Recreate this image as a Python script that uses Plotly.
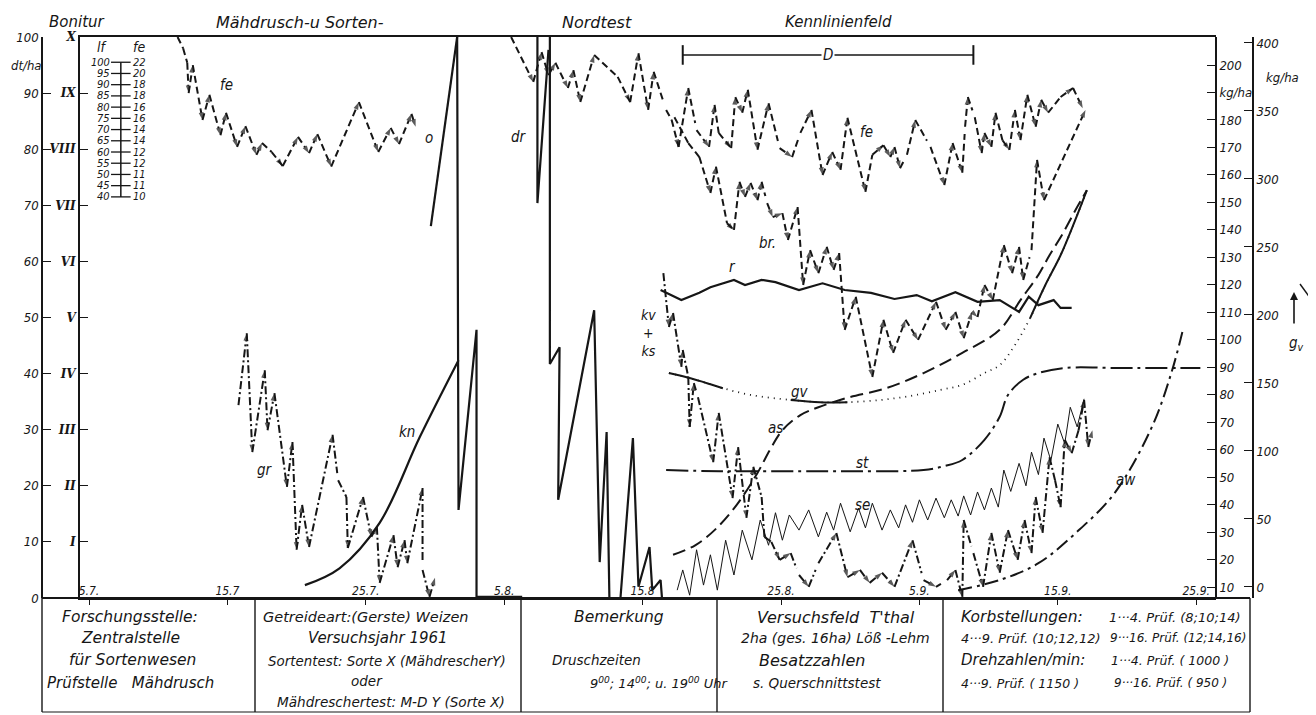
import plotly.graph_objects as go

# The page body has an 8px default margin: build the figure 8px smaller and place
# every layout position in page pixels through px()/py().
OFF = 8
W, H = 1316 - OFF, 715 - OFF
FONT = "DejaVu Sans Condensed, Liberation Sans Narrow, Open Sans, sans-serif"
TFONT = "DejaVu Sans, Open Sans, sans-serif"
INK = "#161616"

# ---------------- axes / tick data ----------------
date_pos = [0, 10, 20, 30, 40, 50, 60, 70, 80]
date_text = ["5.7.", "15.7", "25.7.", "5.8.", "15.8", "25.8.", "5.9.", "15.9.", "25.9."]
dt_ticks = list(range(0, 101, 10))
roman_ticks = list(range(10, 101, 10))
roman_text = ["I", "II", "III", "IV", "V", "VI", "VII", "VIII", "IX", "X"]
kg_inner_ticks = list(range(10, 201, 10))
kg_inner_text = ["kg/ha" if v == 190 else str(v) for v in kg_inner_ticks]
kg_outer_ticks = list(range(0, 401, 50))

# nomogram lf / fe
lf_vals = [100, 95, 90, 85, 80, 75, 70, 65, 60, 55, 50, 45, 40]
fe_vals = [22, 20, 18, 18, 16, 16, 14, 14, 12, 12, 11, 11, 10]

# ---------------- series (x: days on decade scale from 5.7., y: dt/ha) -------------
fe_left = [(6.4, 100), (6.8, 98.0), (7.1, 95.4), (7.2, 90.0), (7.5, 95.0), (8.2, 85.2), (8.7, 89.7),
           (9.5, 82.5), (9.9, 86.5), (10.7, 80.4), (11.3, 84.1), (12.1, 79.0), (12.5, 81.1),
           (13.2, 79.5), (14.0, 77.0), (15.1, 82.2), (15.9, 79.3), (16.5, 82.7), (17.5, 76.9),
           (19.5, 88.4), (20.9, 79.5), (21.8, 83.8), (22.4, 80.9), (23.3, 86.3), (23.6, 84.0)]

gr = [(10.8, 34.4), (11.4, 47.2), (11.8, 26.0), (12.7, 40.6), (12.9, 29.9), (13.4, 36.5), (14.3, 19.8),
      (14.7, 27.8), (15.0, 8.6), (15.4, 16.6), (15.9, 9.1), (16.5, 16.2), (17.6, 29.1), (18.0, 21.0),
      (18.6, 18.0), (18.7, 8.9), (19.8, 18.0), (20.4, 10.9), (20.8, 12.7), (21.0, 2.7), (22.0, 11.2),
      (22.3, 5.5), (22.8, 10.3), (23.0, 6.2), (24.1, 19.6), (24.1, 5.0), (24.6, 0.2), (25.0, 3.6)]

kn = [(15.6, 2.3), (18.1, 5.3), (21.0, 13.4), (23.9, 28.7), (26.7, 42.4)]

o_line = [(24.7, 66.3), (26.6, 100)]
o_drop = [(26.6, 100), (26.7, 15.7), (28.0, 47.8), (28.0, 0.2), (31.3, 0.2)]

dr_v = [(32.4, 100), (32.4, 70.4), (33.2, 97.7)]
dr = [(33.3, 100), (33.3, 41.7), (34.0, 44.7), (33.9, 17.5), (36.5, 51.3), (36.9, 6.4), (37.4, 29.6),
      (37.6, 0), (38.4, 0), (39.3, 28.5), (39.7, 2.0), (40.5, 9.1), (40.7, 1.4), (41.3, 3.2), (41.4, 0)]

fe_right = [(30.5, 100), (32.1, 92.0), (32.7, 97.3), (33.2, 93.2), (33.7, 95.4), (34.6, 90.9), (35.0, 94.1),
            (35.5, 88.4), (36.5, 96.8), (37.1, 95.4), (38.2, 92.9), (39.1, 88.4), (39.7, 97.1),
            (40.4, 87.0), (40.8, 93.8), (41.7, 87.0), (42.1, 85.2), (42.6, 80.4), (43.3, 90.9),
            (43.9, 83.4), (44.8, 80.4), (45.2, 87.9), (45.5, 82.9), (46.4, 80.2), (46.7, 89.3),
            (47.2, 86.5), (47.6, 90.6), (48.3, 79.9), (49.1, 88.2), (49.9, 80.2), (50.8, 78.6),
            (51.4, 82.9), (52.2, 87.0), (53.0, 75.4), (53.7, 79.5), (54.3, 76.3), (54.8, 85.6),
            (56.1, 72.4), (56.6, 79.0), (57.4, 80.7), (57.9, 78.6), (58.2, 80.4), (58.6, 76.6),
            (59.1, 79.0), (59.7, 85.2), (60.8, 80.4), (61.8, 73.6), (62.4, 81.1), (62.8, 78.1),
            (63.1, 75.8), (63.3, 84.0), (63.5, 89.3), (64.0, 85.7), (64.5, 79.3), (64.7, 82.9),
            (65.2, 80.4), (65.5, 86.5), (66.0, 81.6), (66.5, 79.9), (66.9, 87.0), (67.3, 81.6),
            (67.8, 89.7), (68.4, 84.0), (68.8, 88.8), (69.3, 86.5), (70.2, 89.3), (71.1, 90.9),
            (71.8, 87.3)]

br = [(42.3, 85.7), (43.3, 81.1), (44.1, 78.6), (44.9, 72.2), (45.3, 76.9), (46.1, 66.8), (46.6, 65.6),
      (47.0, 74.2), (47.4, 71.5), (47.8, 74.0), (48.3, 70.9), (48.6, 74.2), (49.0, 70.4), (49.4, 67.9),
      (50.1, 68.6), (50.5, 63.8), (51.2, 69.7), (51.6, 55.8), (52.1, 62.0), (52.7, 57.9), (53.3, 62.6),
      (53.8, 58.5), (54.2, 61.5), (54.6, 47.8), (55.4, 53.7), (56.6, 39.4), (57.4, 49.6), (58.1, 43.7),
      (59.0, 49.6), (59.9, 46.0), (61.2, 52.8), (61.9, 47.8), (62.6, 51.0), (63.2, 46.3), (63.8, 51.0),
      (64.2, 50.1), (64.7, 55.8), (65.3, 53.1), (66.1, 62.9), (66.7, 57.9), (67.2, 62.6), (67.5, 56.7),
      (68.1, 62.0), (68.5, 78.1), (69.0, 70.9), (72.0, 87.0)]

r = [(41.3, 54.9), (42.8, 53.1), (44.1, 54.4), (44.9, 55.4), (46.6, 56.7), (47.4, 55.8), (48.6, 56.7),
     (49.6, 56.3), (51.3, 54.9), (53.0, 56.1), (54.6, 54.9), (56.5, 54.4), (58.2, 53.3), (59.8, 54.0),
     (60.9, 52.9), (62.6, 54.5), (64.2, 52.8), (65.8, 53.1), (67.2, 51.0), (67.9, 53.7), (68.6, 52.2),
     (69.7, 53.1), (70.2, 51.7), (71.0, 51.7)]

kv_ks = [(41.5, 57.9), (41.9, 48.3), (42.2, 50.8), (42.5, 46.0), (42.8, 41.2), (42.9, 44.2), (43.3, 39.4),
         (43.4, 30.5), (43.7, 38.3), (44.0, 35.8), (45.1, 24.2), (45.5, 33.0), (46.5, 17.8), (46.9, 26.9),
         (47.5, 14.3), (48.0, 23.4), (48.6, 18.0), (48.8, 10.9), (49.3, 10.0), (49.9, 6.8), (50.7, 8.0),
         (51.3, 4.1), (52.0, 2.0), (52.7, 6.2), (53.3, 8.6), (54.0, 11.6), (54.8, 3.7), (55.7, 5.0),
         (56.4, 2.7), (57.3, 4.5), (58.2, 2.0), (59.5, 10.3), (60.3, 3.2), (61.2, 2.0), (62.0, 3.2),
         (62.6, 5.0), (63.1, 0.2), (63.2, 13.9), (63.9, 8.0), (64.6, 2.0), (65.2, 11.6), (65.8, 4.5),
         (66.4, 12.1), (67.1, 6.8), (67.6, 13.9), (68.1, 8.0), (68.4, 18.0), (68.9, 11.6), (69.4, 25.1),
         (69.8, 21.0), (70.2, 16.2), (70.5, 28.2), (71.0, 25.8), (71.5, 29.9), (71.9, 35.3), (72.2, 26.9),
         (72.5, 29.9)]

se = [(42.5, 1.4), (42.9, 5.0), (43.4, 0.5), (43.9, 8.6), (44.4, 2.3), (44.9, 7.7), (45.4, 1.4), (46.0, 10.3),
      (46.6, 4.1), (47.2, 12.1), (47.9, 6.8), (48.5, 13.9), (49.1, 9.4), (49.6, 15.2), (50.1, 10.3),
      (50.6, 14.8), (51.3, 12.1), (52.0, 15.7), (52.7, 10.9), (53.3, 15.3), (53.8, 12.1), (54.3, 16.9),
      (55.0, 11.8), (55.6, 16.0), (56.1, 12.5), (56.6, 16.9), (57.3, 12.1), (57.9, 15.7), (58.5, 12.5),
      (59.0, 16.6), (59.5, 13.5), (60.0, 17.5), (60.6, 13.9), (61.2, 17.8), (61.8, 14.3), (62.3, 17.5),
      (62.8, 14.6), (63.2, 18.2), (63.7, 14.8), (64.2, 18.9), (64.7, 15.7), (65.2, 19.6), (65.7, 16.2),
      (66.1, 22.8), (66.6, 19.0), (67.2, 24.0), (67.7, 20.0), (68.1, 26.0), (68.6, 22.0), (69.0, 28.5),
      (69.5, 24.5), (70.0, 31.0), (70.5, 27.5), (70.9, 34.0), (71.4, 30.5), (71.9, 35.5)]

gv = [(41.9, 40.1), (43.4, 39.2), (44.9, 38.1), (45.8, 37.4), (47.8, 36.2), (50.7, 35.3), (52.8, 34.9),
      (54.8, 34.9), (57.2, 35.3), (59.3, 36.0), (61.5, 37.1), (63.1, 38.0), (64.7, 40.1), (65.8, 41.5),
      (66.9, 45.1), (68.0, 49.9), (69.1, 55.8), (70.2, 61.1), (71.2, 67.0), (72.1, 72.7)]
gv_solid_parts = [(0, 4), (5, 8), (15, 20)]

as_ = [(42.2, 7.7), (43.8, 9.4), (45.2, 12.1), (46.8, 16.6), (48.3, 22.3), (49.2, 26.4), (50.1, 29.9),
       (51.4, 32.6), (52.7, 34.0), (54.8, 35.7), (57.6, 37.4), (60.3, 40.1), (63.1, 43.7), (65.8, 47.8),
       (67.3, 53.1), (68.6, 57.6), (69.4, 61.1), (70.3, 64.7), (71.2, 68.8), (72.1, 72.7)]

st = [(41.7, 22.8), (45.6, 22.6), (51.4, 22.6), (55.7, 22.6), (60.3, 22.8), (61.8, 23.5), (63.1, 24.6),
      (64.7, 28.2), (65.8, 32.3), (66.4, 36.2), (67.5, 38.9), (68.6, 40.1), (70.5, 41.0), (74.5, 41.0),
      (80.3, 41.0)]

aw = [(62.8, 1.4), (65.8, 3.2), (68.6, 6.2), (71.3, 11.6), (74.1, 18.7), (76.8, 30.5), (78.2, 40.1),
      (79.0, 47.4)]

d_span = [(42.9, 96.8), (63.9, 96.8)]

curve_labels = [("fe", 9.9, 91.4), ("o", 24.6, 82.0), ("dr", 31.1, 82.2), ("gr", 12.7, 22.8),
                ("kn", 23.0, 29.6), ("fe", 56.2, 83.1), ("br.", 49.0, 63.3), ("r", 46.5, 59.0),
                ("kv<br>+<br>ks", 40.4, 47.3), ("gv", 51.4, 36.7),
                ("as", 49.6, 30.3), ("st", 55.9, 24.1), ("se", 55.9, 16.6), ("aw", 74.9, 21.0)]

# ---------------- helpers ----------------
def px(x):
    return (x - OFF) / W


def py(y):
    return 1 - (y - OFF) / H


def xs(p):
    return [a for a, _ in p]


def ys(p):
    return [b for _, b in p]


def arrow_sizes(p, s=8):
    v = ys(p)
    out = []
    for i in range(len(v)):
        if i == 0:
            out.append(0)
        elif i == len(v) - 1:
            out.append(s)
        else:
            out.append(s if (v[i] - v[i - 1]) * (v[i + 1] - v[i]) <= 0 else 0)
    return out


fig = go.Figure()


def line(p, dash="solid", width=2.0, arrows=False, shape="linear"):
    mode = "lines+markers" if arrows else "lines"
    marker = dict(symbol="arrow", angleref="previous", size=arrow_sizes(p), color=INK,
                  line=dict(width=0)) if arrows else None
    fig.add_trace(go.Scatter(x=xs(p), y=ys(p), mode=mode,
                             line=dict(color=INK, width=width, dash=dash, shape=shape),
                             marker=marker, showlegend=False, hoverinfo="skip"))


DASH = "7px,4px"
DASHDOT = "8px,3px,2px,3px"

line(fe_left, DASH, 2.0, True)
line(fe_right, DASH, 2.0, True)
line(br, DASH, 2.0, True)
line(gr, DASHDOT, 2.0, True)
line(kv_ks, DASHDOT, 2.0, True)
line(kn, "solid", 2.2, shape="spline")
line(o_line, "solid", 2.2)
line(o_drop, "solid", 2.2)
line(dr_v, "solid", 2.2)
line(dr, "solid", 2.2)
line(r, "solid", 2.2)
line(se, "solid", 1.0)
line(gv, "1px,5px", 1.8, shape="spline")
for a, b in gv_solid_parts:
    line(gv[a:b], "solid", 2.0, shape="spline")
line(as_, "13px,6px", 2.0, shape="spline")
line(st, "22px,5px,3px,5px", 2.0, shape="spline")
line(aw, "14px,5px,3px,5px", 2.0, shape="spline")

# D bracket
fig.add_trace(go.Scatter(x=xs(d_span), y=ys(d_span), mode="lines+markers",
                         line=dict(color=INK, width=1.6),
                         marker=dict(symbol="line-ns", size=14, line=dict(color=INK, width=2)),
                         showlegend=False, hoverinfo="skip"))

# lf / fe nomogram
row_y = [95.5 - 2.0 * i for i in range(len(lf_vals))]
fig.add_trace(go.Scatter(x=[2.3] * len(row_y), y=row_y, mode="lines+markers",
                         line=dict(color=INK, width=1.5),
                         marker=dict(symbol="line-ew", size=14, line=dict(color=INK, width=1.3)),
                         showlegend=False, hoverinfo="skip"))

# dummy traces for the extra axes
for ax in ["y2", "y3", "y4"]:
    fig.add_trace(go.Scatter(x=[None], y=[None], yaxis=ax, showlegend=False, hoverinfo="skip"))

tick_font = dict(family=FONT, size=13, color=INK, style="italic")

fig.update_layout(
    width=W, height=H, autosize=False, template="none",
    margin=dict(l=0, r=0, t=0, b=0, pad=0),
    paper_bgcolor="white", plot_bgcolor="white",
    showlegend=False,
    font=dict(family=FONT, color=INK, style="italic"),
    xaxis=dict(domain=[px(80), px(1216)], range=[-0.65, 81.43], showline=True, mirror=True,
               linecolor=INK, linewidth=1.6, ticks="outside", ticklen=5, tickcolor=INK,
               tickvals=date_pos, ticktext=date_text, ticklabelposition="inside",
               ticklabeloverflow="allow",
               tickfont=dict(family=FONT, size=12, color=INK, style="italic"),
               showgrid=False, zeroline=False, automargin=False, fixedrange=True),
    yaxis=dict(domain=[py(598), py(37)], range=[0, 100], anchor="free", position=px(42), side="left",
               showline=True, linecolor=INK, linewidth=1.6, ticks="inside", ticklen=8, tickcolor=INK,
               tickvals=dt_ticks, tickfont=tick_font, showgrid=False, zeroline=False,
               automargin=False, fixedrange=True),
    yaxis2=dict(overlaying="y", anchor="x", side="left", range=[0, 100], showline=True, linecolor=INK,
                linewidth=1.8, ticks="inside", ticklen=8, tickcolor=INK, tickvals=roman_ticks,
                ticktext=roman_text,
                tickfont=dict(family="DejaVu Serif, serif", size=12, color=INK, weight="bold"),
                showgrid=False, zeroline=False, automargin=False, fixedrange=True),
    yaxis3=dict(overlaying="y", anchor="free", position=px(1216), side="right", range=[6.0, 210.2],
                showline=True, linecolor=INK, linewidth=1.6, ticks="inside", ticklen=8, tickcolor=INK,
                tickvals=kg_inner_ticks, ticktext=kg_inner_text, tickfont=tick_font,
                showgrid=False, zeroline=False, automargin=False, fixedrange=True),
    yaxis4=dict(overlaying="y", anchor="free", position=px(1253), side="right", range=[-8.1, 404.4],
                showline=True, linecolor=INK, linewidth=1.6, ticks="inside", ticklen=8, tickcolor=INK,
                tickvals=kg_outer_ticks, tickfont=tick_font,
                showgrid=False, zeroline=False, automargin=False, fixedrange=True),
)

ann = []


def text(t, x, y, size=15, xanchor="center", xref="paper", yref="paper", bg=None, family=FONT):
    d = dict(text=t, x=x, y=y, xref=xref, yref=yref, xanchor=xanchor, yanchor="middle",
             showarrow=False, font=dict(family=family, size=size, color=INK, style="italic"))
    if bg:
        d["bgcolor"] = bg
    ann.append(d)


# curve labels
for t, x, y in curve_labels:
    text(t, x, y, 15 if "<br>" not in t else 14, xref="x", yref="y")
text("D", 53.4, 96.8, 15, xref="x", yref="y", bg="white")

# nomogram labels
text("lf", 1.0, 98.3, 14, xref="x", yref="y")
text("fe", 3.6, 98.3, 14, xref="x", yref="y")
for v, yy in zip(lf_vals, row_y):
    text(str(v), 1.65, yy, 11, xanchor="right", xref="x", yref="y")
for v, yy in zip(fe_vals, row_y):
    text(str(v), 3.0, yy, 11, xanchor="left", xref="x", yref="y")

# headings
text("Bonitur", px(77), py(22), 15, family=TFONT)
text("dt/ha", px(9), py(65), 13, xanchor="left")
text("Mähdrusch-u Sorten-", px(300), py(22), 16, family=TFONT)
text("Nordtest", px(597), py(22), 16, family=TFONT)
text("Kennlinienfeld", px(838), py(22), 15, family=TFONT)
text("kg/ha", px(1282), py(78), 13)
text("g<sub>v</sub>", px(1296), py(343), 15)
ann.append(dict(x=px(1294), y=py(292), xref="paper", yref="paper", ax=0, ay=40, text=" ",
                showarrow=True, arrowhead=2, arrowsize=1, arrowwidth=1.6, arrowcolor=INK))

# table text
rows = [617, 638, 660, 683, 703]
text("Forschungsstelle:", px(130), py(rows[0]), 15.5, family=TFONT)
text("Zentralstelle", px(130), py(rows[1]), 15.5, family=TFONT)
text("für Sortenwesen", px(132), py(rows[2]), 15.5, family=TFONT)
text("Prüfstelle   Mähdrusch", px(130), py(rows[3]), 15, family=TFONT)

text("Getreideart:(Gerste) Weizen", px(366), py(rows[0]), 14.5, family=TFONT)
text("Versuchsjahr 1961", px(378), py(rows[1]), 15, family=TFONT)
text("Sortentest: Sorte X (MähdrescherY)", px(387), py(661), 13.4, family=TFONT)
text("oder", px(367), py(681), 13.5, family=TFONT)
text("Mähdreschertest: M-D Y (Sorte X)", px(391), py(702), 13.6, family=TFONT)

text("Bemerkung", px(619), py(rows[0]), 15.5, family=TFONT)
text("Druschzeiten", px(550), py(rows[2]), 13.5, xanchor="left", family=TFONT)
text("9<sup>00</sup>; 14<sup>00</sup>; u. 19<sup>00</sup> Uhr", px(588), py(rows[3]), 13,
     xanchor="left", family=TFONT)

text("Versuchsfeld  T'thal", px(836), py(rows[0]), 16, family=TFONT)
text("2ha (ges. 16ha) Löß -Lehm", px(835), py(rows[1]), 14, family=TFONT)
text("Besatzzahlen", px(757), py(rows[2]), 16, xanchor="left", family=TFONT)
text("s. Querschnittstest", px(751), py(rows[3]), 13.5, xanchor="left", family=TFONT)

text("Korbstellungen:", px(959), py(rows[0]), 15.5, xanchor="left", family=TFONT)
text("1···4. Prüf. (8;10;14)", px(1107), py(rows[0]), 13, xanchor="left", family=TFONT)
text("4···9. Prüf. (10;12,12)", px(959), py(rows[1]), 13, xanchor="left", family=TFONT)
text("9···16. Prüf. (12;14,16)", px(1108), py(rows[1]), 12, xanchor="left", family=TFONT)
text("Drehzahlen/min:", px(959), py(rows[2]), 15, xanchor="left", family=TFONT)
text("1···4. Prüf. ( 1000 )", px(1109), py(rows[2]), 12.5, xanchor="left", family=TFONT)
text("4···9. Prüf. ( 1150 )", px(959), py(rows[3]), 12.5, xanchor="left", family=TFONT)
text("9···16. Prüf. ( 950 )", px(1112), py(rows[3]), 12, xanchor="left", family=TFONT)

fig.update_layout(annotations=ann)

# table frame and baseline extension
shapes = []


def seg(x0, y0, x1, y1, w=1.5):
    shapes.append(dict(type="line", xref="paper", yref="paper", x0=px(x0), y0=py(y0), x1=px(x1),
                       y1=py(y1), line=dict(color=INK, width=w)))


seg(42, 598, 1250, 598, 1.8)
seg(42, 712, 1250, 712, 1.2)
for xv in [42, 255, 521, 717, 943, 1250]:
    seg(xv, 598, xv, 712, 1.4)
seg(1300, 284, 1316, 306, 1.4)
fig.update_layout(shapes=shapes)

fig.write_html("out.html")
